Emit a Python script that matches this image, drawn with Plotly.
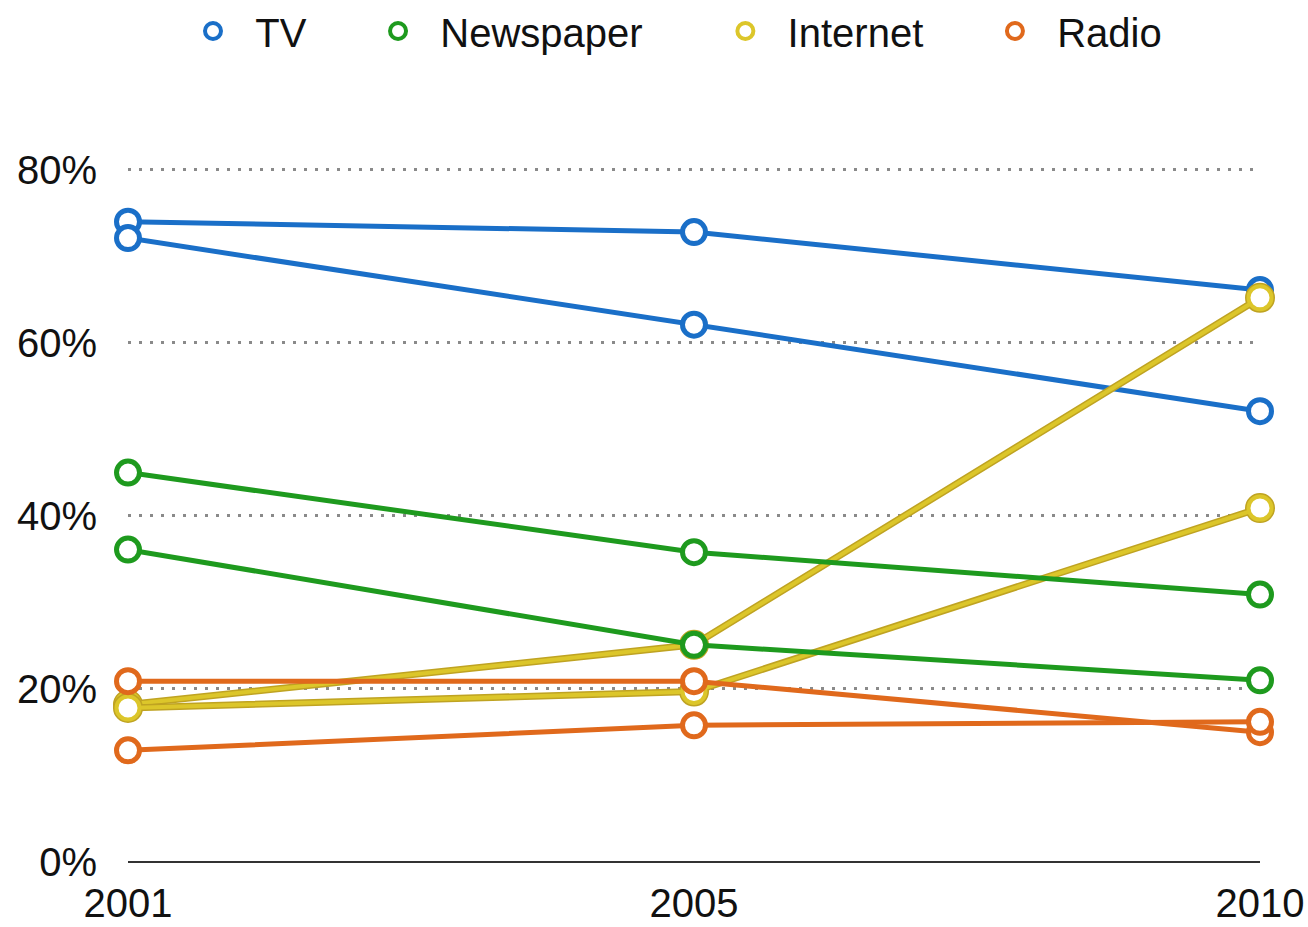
import plotly.graph_objects as go

years = ["2001", "2005", "2010"]
series_names = ["TV", "Newspaper", "Internet", "Radio"]
colors = ["#1a6fc8", "#1e9a1e", "#dcc62a", "#e0691c"]
internet_edge = "#bfa322"
y_ticks = [0, 20, 40, 60, 80]
y_tick_labels = ["0%", "20%", "40%", "60%", "80%"]

tv_a = [74.0, 72.8, 66.1]
tv_b = [72.1, 62.1, 52.1]
news_a = [45.0, 35.8, 30.9]
news_b = [36.1, 25.1, 21.0]
internet_a = [18.2, 25.1, 65.2]
internet_b = [17.8, 19.7, 40.9]
radio_a = [20.9, 20.9, 15.0]
radio_b = [12.9, 15.8, 16.2]

data = {
    "TV": [tv_a, tv_b],
    "Newspaper": [news_a, news_b],
    "Internet": [internet_a, internet_b],
    "Radio": [radio_a, radio_b],
}

NB = "\u00a0"
legend_labels = {
    "TV": NB * 2 + "TV" + NB * 6,
    "Newspaper": NB * 2 + "Newspaper" + NB * 7,
    "Internet": NB * 2 + "Internet" + NB * 6,
    "Radio": NB * 2 + "Radio",
}

fig = go.Figure()

order = ["TV", "Internet", "Newspaper", "Radio"]
for name in order:
    c = colors[series_names.index(name)]
    for vals in data[name]:
        if name == "Internet":
            fig.add_trace(go.Scatter(
                x=years, y=vals, mode="lines+markers",
                line=dict(color=internet_edge, width=7),
                marker=dict(size=23, color="white", line=dict(color=internet_edge, width=7)),
                cliponaxis=False, showlegend=False, hoverinfo="skip"))
            fig.add_trace(go.Scatter(
                x=years, y=vals, mode="lines+markers",
                line=dict(color=c, width=4),
                marker=dict(size=23, color="white", line=dict(color=c, width=4)),
                cliponaxis=False, showlegend=False, hoverinfo="skip"))
        else:
            fig.add_trace(go.Scatter(
                x=years, y=vals, mode="lines+markers",
                line=dict(color=c, width=5),
                marker=dict(size=23, color="white", line=dict(color=c, width=5)),
                cliponaxis=False, showlegend=False, hoverinfo="skip"))

for name, c in zip(series_names, colors):
    fig.add_trace(go.Scatter(
        x=[None], y=[None], mode="markers", name=legend_labels[name],
        marker=dict(size=17, color="white", line=dict(color=c, width=4)),
        showlegend=True))

fig.update_layout(
    width=1308, height=927,
    margin=dict(l=128, r=48, t=168, b=65, autoexpand=False),
    paper_bgcolor="white", plot_bgcolor="white",
    font=dict(family="Liberation Sans, Arial, Helvetica, sans-serif", size=40, color="#111111"),
    legend=dict(orientation="h", x=193 / 1308, xanchor="left", xref="container",
                y=1 - 31 / 927, yanchor="middle", yref="container", font=dict(size=40),
                itemwidth=30, traceorder="normal", itemclick=False,
                bgcolor="rgba(0,0,0,0)"),
    showlegend=True,
)
fig.update_xaxes(type="category", range=[0, 2], showgrid=False, zeroline=False,
                 showline=False, ticks="", ticklabelstandoff=14, automargin=False)
fig.update_yaxes(range=[0, 80.2], tickvals=y_ticks, ticktext=y_tick_labels,
                 showgrid=True, gridcolor="#8a8a8a", griddash="3px,8px", gridwidth=3,
                 zeroline=True, zerolinecolor="#333333", zerolinewidth=2,
                 showline=False, ticks="", ticklabelstandoff=30, automargin=False)

fig.write_html("out.html")
